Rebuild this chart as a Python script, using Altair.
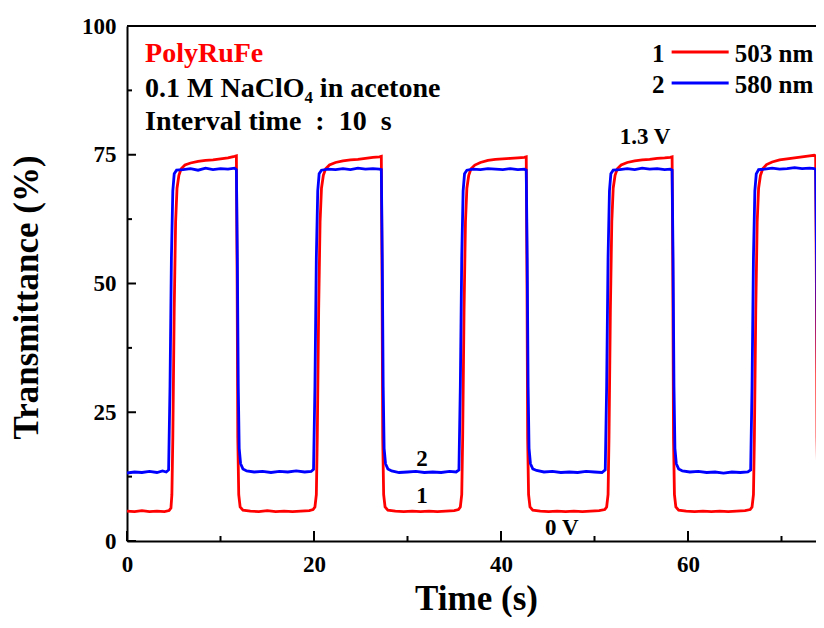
import altair as alt
import pandas as pd

# ---------------- data ----------------
BLUE_T = [0.0, 0.8, 1.6, 2.4, 3.2, 3.8, 4.2, 4.45, 4.6, 4.75, 4.9, 5.05, 5.3,
          6.0, 6.8, 7.6, 8.4, 9.2, 10.0, 10.8, 11.5, 11.7,
          11.8, 11.9, 12.0, 12.15, 12.4, 12.8,
          13.6, 14.5, 15.4, 16.3, 17.2, 18.1, 19.0, 19.7, 19.95,
          20.1, 20.25, 20.4, 20.55, 20.8,
          21.5, 22.3, 23.1, 23.9, 24.7, 25.5, 26.3, 27.0, 27.2,
          27.3, 27.4, 27.5, 27.65, 27.9, 28.3,
          29.1, 30.0, 30.9, 31.8, 32.7, 33.6, 34.5, 35.2, 35.5,
          35.65, 35.8, 35.95, 36.1, 36.35,
          37.0, 37.8, 38.6, 39.4, 40.2, 41.0, 41.8, 42.5, 42.7,
          42.8, 42.9, 43.0, 43.15, 43.4, 43.8,
          44.6, 45.5, 46.4, 47.3, 48.2, 49.1, 50.0, 50.8, 51.15,
          51.3, 51.45, 51.6, 51.75, 52.0,
          52.7, 53.5, 54.3, 55.1, 55.9, 56.7, 57.5, 58.1, 58.3,
          58.4, 58.5, 58.6, 58.75, 59.0, 59.4,
          60.2, 61.1, 62.0, 62.9, 63.8, 64.7, 65.6, 66.4, 66.7,
          66.85, 67.0, 67.15, 67.3, 67.55,
          68.2, 69.0, 69.8, 70.6, 71.4, 72.2, 73.0, 73.5, 73.65,
          73.75, 73.85, 73.95, 74.1, 74.35, 74.7]
BLUE_V = [13.2, 13.4, 13.3, 13.5, 13.3, 13.6, 13.4, 13.8, 30, 55, 68, 71.3, 72.0,
          72.1, 72.3, 72.0, 72.4, 72.1, 72.3, 72.2, 72.4, 72.1,
          55, 30, 18, 15, 14, 13.6,
          13.4, 13.5, 13.3, 13.5, 13.4, 13.6, 13.4, 13.5, 13.9,
          30, 55, 68, 71.3, 72.0,
          72.2, 72.1, 72.3, 72.1, 72.4, 72.2, 72.3, 72.2, 72.1,
          55, 30, 18, 15, 14, 13.6,
          13.3, 13.4, 13.5, 13.3, 13.4, 13.3, 13.5, 13.4, 13.8,
          30, 55, 68, 71.3, 72.0,
          72.2, 72.1, 72.3, 72.2, 72.1, 72.3, 72.1, 72.2, 72.0,
          55, 30, 18, 15, 14, 13.7,
          13.4, 13.5, 13.3, 13.4, 13.3, 13.5, 13.4, 13.3, 13.8,
          30, 55, 68, 71.3, 72.0,
          72.1, 72.3, 72.1, 72.4, 72.2, 72.3, 72.1, 72.2, 72.0,
          55, 30, 18, 15, 14, 13.6,
          13.4, 13.5, 13.3, 13.4, 13.2, 13.4, 13.3, 13.4, 13.8,
          30, 55, 68, 71.3, 72.1,
          72.2, 72.4, 72.2, 72.3, 72.5, 72.3, 72.4, 72.3, 72.1,
          55, 30, 18, 15, 14, 13.6]

RED_T = [0.0, 0.8, 1.6, 2.4, 3.2, 4.0, 4.5, 4.7, 4.8, 4.9, 5.05, 5.2, 5.35, 5.55, 5.8,
         6.2, 6.8, 7.6, 8.4, 9.2, 10.0, 10.8, 11.5, 11.7,
         11.78, 11.85, 11.95, 12.1, 12.4,
         13.2, 14.1, 15.0, 15.9, 16.8, 17.7, 18.6, 19.5, 19.9,
         20.1, 20.25, 20.35, 20.5, 20.65, 20.8, 21.0, 21.25,
         21.65, 22.3, 23.1, 23.9, 24.7, 25.5, 26.3, 27.0, 27.2,
         27.28, 27.35, 27.45, 27.6, 27.9,
         28.7, 29.6, 30.5, 31.4, 32.3, 33.2, 34.1, 35.0, 35.45,
         35.65, 35.8, 35.9, 36.05, 36.2, 36.35, 36.55, 36.8,
         37.2, 37.8, 38.6, 39.4, 40.2, 41.0, 41.8, 42.5, 42.7,
         42.78, 42.85, 42.95, 43.1, 43.4,
         44.2, 45.1, 46.0, 46.9, 47.8, 48.7, 49.6, 50.5, 51.1,
         51.3, 51.45, 51.55, 51.7, 51.85, 52.0, 52.2, 52.45,
         52.85, 53.5, 54.3, 55.1, 55.9, 56.7, 57.5, 58.1, 58.3,
         58.38, 58.45, 58.55, 58.7, 59.0,
         59.8, 60.7, 61.6, 62.5, 63.4, 64.3, 65.2, 66.1, 66.65,
         66.85, 67.0, 67.1, 67.25, 67.4, 67.55, 67.75, 68.0,
         68.4, 69.0, 69.8, 70.6, 71.4, 72.2, 73.0, 73.5, 73.65,
         73.73, 73.8, 73.9, 74.05, 74.35, 74.7]
RED_V = [5.8, 5.7, 5.9, 5.7, 5.8, 5.7, 5.9, 6.4, 9, 20, 45, 62, 68.5, 71, 72.3,
         73.0, 73.4, 73.7, 73.9, 74.0, 74.2, 74.4, 74.7, 74.8,
         50, 20, 9, 6.6, 6.0,
         5.8, 5.7, 5.9, 5.7, 5.8, 5.7, 5.8, 5.9, 6.1,
         6.6, 9, 20, 45, 62, 68.5, 71, 72.3,
         73.0, 73.5, 73.8, 74.0, 74.1, 74.3, 74.5, 74.6, 74.7,
         50, 20, 9, 6.6, 6.0,
         5.8, 5.7, 5.8, 5.7, 5.8, 5.7, 5.8, 5.9, 6.1,
         6.6, 9, 20, 45, 62, 68.5, 71, 72.3,
         73.0, 73.5, 73.9, 74.1, 74.2, 74.3, 74.4, 74.5, 74.6,
         50, 20, 9, 6.6, 6.0,
         5.8, 5.7, 5.8, 5.7, 5.8, 5.7, 5.8, 5.9, 6.1,
         6.6, 9, 20, 45, 62, 68.5, 71, 72.3,
         73.0, 73.5, 73.8, 74.0, 74.1, 74.3, 74.4, 74.5, 74.6,
         50, 20, 9, 6.6, 6.0,
         5.8, 5.7, 5.8, 5.7, 5.8, 5.7, 5.8, 5.9, 6.1,
         6.6, 9, 20, 45, 62, 68.5, 71, 72.3,
         73.1, 73.6, 74.0, 74.2, 74.4, 74.6, 74.8, 74.9, 74.8,
         50, 20, 9, 6.6, 6.0, 5.8]

X_MAJOR = [0, 20, 40, 60]
X_MINOR = [10, 30, 50, 70]
Y_MAJOR = [0, 25, 50, 75, 100]
Y_MINOR = [12.5, 37.5, 62.5, 87.5]

# annotation texts (time, transmittance)
INFO_TEXT = ["0.1 M NaClO\u2084 in acetone", "Interval time\u2002:\u200210\u2002s"]
INFO_X = [1.93, 1.93]
INFO_Y = [86.2, 79.8]
TITLE_TEXT = ["PolyRuFe"]
LEG_NUM = ["1", "2"]
LEG_NAME = ["503 nm", "580 nm"]
LEG_COLOR = ["#ff0000", "#0000ff"]
LEG_NUM_X = [57.5, 57.5]
LEG_LINE_X = [58.25, 58.25]
LEG_LINE_X2 = [64.35, 64.35]
LEG_NAME_X = [65.0, 65.0]
LEG_TEXT_Y = [93.0, 87.0]
LEG_LINE_Y = [94.95, 88.93]
ANN_TEXT = ["1.3 V", "2", "1", "0 V"]
ANN_X = [55.4, 31.55, 31.55, 46.5]
ANN_Y = [77.1, 14.56, 7.38, 1.17]

# ---------------- chart ----------------
W, H = 689, 515
XMAX = 73.69
FONT = "Liberation Serif"

xs = alt.Scale(domain=[0, XMAX], nice=False, zero=False)
ys = alt.Scale(domain=[0, 100], nice=False)

red = pd.DataFrame({"t": RED_T, "v": RED_V})
blue = pd.DataFrame({"t": BLUE_T, "v": BLUE_V})

xaxis = alt.Axis(values=X_MAJOR, ticks=False, grid=False, domainColor="black",
                 domainWidth=2, labelFont=FONT, labelFontSize=23, labelFontWeight="bold",
                 labelColor="black", labelPadding=12, labelFlush=False,
                 title="Time (s)", titleFont=FONT,
                 titleFontSize=35, titleFontWeight="bold", titleColor="black",
                 titleX=349, titleY=68, titleBaseline="alphabetic", titleAnchor="middle",
                 titleAlign="center")
yaxis = alt.Axis(values=Y_MAJOR, ticks=False, grid=False, domainColor="black",
                 domainWidth=2, labelFont=FONT, labelFontSize=23, labelFontWeight="bold",
                 labelColor="black", labelPadding=11, labelFlush=False,
                 title="Transmittance (%)",
                 titleFont=FONT, titleFontSize=35, titleFontWeight="bold",
                 titleColor="black", titleX=-90, titleY=271, titleAngle=270,
                 titleBaseline="alphabetic", titleAlign="center")

red_line = alt.Chart(red).mark_line(color="#ff0000", strokeWidth=2.8, clip=True).encode(
    x=alt.X("t:Q", scale=xs, axis=xaxis),
    y=alt.Y("v:Q", scale=ys, axis=yaxis),
)
blue_line = alt.Chart(blue).mark_line(color="#0000ff", strokeWidth=2.8, clip=True).encode(
    x=alt.X("t:Q", scale=xs),
    y=alt.Y("v:Q", scale=ys),
)

# inward ticks
xmaj = alt.Chart(pd.DataFrame({"t": X_MAJOR})).mark_rule(color="black", strokeWidth=2).encode(
    x=alt.X("t:Q", scale=xs), y=alt.value(H), y2=alt.value(H - 10))
xmin = alt.Chart(pd.DataFrame({"t": X_MINOR})).mark_rule(color="black", strokeWidth=2).encode(
    x=alt.X("t:Q", scale=xs), y=alt.value(H), y2=alt.value(H - 5))
ymaj = alt.Chart(pd.DataFrame({"v": Y_MAJOR})).mark_rule(color="black", strokeWidth=2).encode(
    y=alt.Y("v:Q", scale=ys), x=alt.value(0), x2=alt.value(9))
ymin = alt.Chart(pd.DataFrame({"v": Y_MINOR})).mark_rule(color="black", strokeWidth=2).encode(
    y=alt.Y("v:Q", scale=ys), x=alt.value(0), x2=alt.value(5))
top_border = alt.Chart(pd.DataFrame({"v": [100]})).mark_rule(color="black", strokeWidth=2).encode(
    y=alt.Y("v:Q", scale=ys), x=alt.value(0), x2=alt.value(W + 10))

# texts
title_txt = alt.Chart(pd.DataFrame({"x": [1.93], "y": [93.0], "s": TITLE_TEXT})).mark_text(
    font=FONT, fontSize=28, fontWeight="bold", color="#ff0000", align="left",
    baseline="alphabetic").encode(x=alt.X("x:Q", scale=xs), y=alt.Y("y:Q", scale=ys), text="s:N")
info_txt = alt.Chart(pd.DataFrame({"x": INFO_X, "y": INFO_Y, "s": INFO_TEXT})).mark_text(
    font=FONT, fontSize=28, fontWeight="bold", color="black", align="left",
    baseline="alphabetic").encode(x=alt.X("x:Q", scale=xs), y=alt.Y("y:Q", scale=ys), text="s:N")

leg_df = pd.DataFrame({"nx": LEG_NUM_X, "lx": LEG_LINE_X, "lx2": LEG_LINE_X2, "tx": LEG_NAME_X,
                       "ty": LEG_TEXT_Y, "ly": LEG_LINE_Y, "num": LEG_NUM, "name": LEG_NAME,
                       "c": LEG_COLOR})
leg_num = alt.Chart(leg_df).mark_text(font=FONT, fontSize=25, fontWeight="bold", color="black",
                                      align="right", baseline="alphabetic").encode(
    x=alt.X("nx:Q", scale=xs), y=alt.Y("ty:Q", scale=ys), text="num:N")
leg_name = alt.Chart(leg_df).mark_text(font=FONT, fontSize=25, fontWeight="bold", color="black",
                                       align="left", baseline="alphabetic").encode(
    x=alt.X("tx:Q", scale=xs), y=alt.Y("ty:Q", scale=ys), text="name:N")
leg_line = alt.Chart(leg_df).mark_rule(strokeWidth=2.8).encode(
    x=alt.X("lx:Q", scale=xs), x2="lx2:Q", y=alt.Y("ly:Q", scale=ys),
    color=alt.Color("c:N", scale=None))

ann = alt.Chart(pd.DataFrame({"x": ANN_X, "y": ANN_Y, "s": ANN_TEXT})).mark_text(
    font=FONT, fontSize=23, fontWeight="bold", color="black", align="center",
    baseline="alphabetic").encode(x=alt.X("x:Q", scale=xs), y=alt.Y("y:Q", scale=ys), text="s:N")

chart = alt.layer(
    red_line, blue_line, xmaj, xmin, ymaj, ymin, top_border,
    title_txt, info_txt, leg_num, leg_name, leg_line, ann,
).properties(
    width=W, height=H,
    autosize=alt.AutoSizeParams(type="none"),
    padding={"left": 119, "top": 18, "right": 0, "bottom": 76},
).configure_view(stroke=None).configure(background="white")

chart.save("out.html", embed_options={"renderer": "svg", "actions": False})
